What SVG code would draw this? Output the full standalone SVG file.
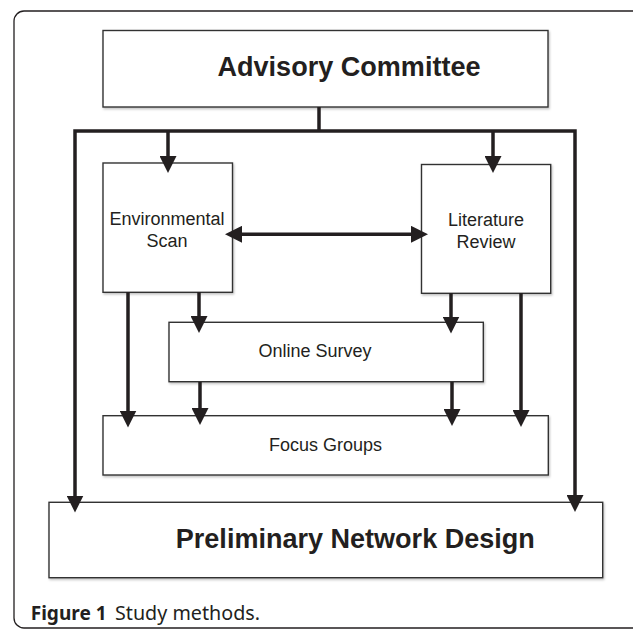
<svg xmlns="http://www.w3.org/2000/svg" width="633" height="630" viewBox="0 0 633 630">
<style>
.box{fill:#fff;stroke:#333;stroke-width:1.4;filter:url(#sh)}
.ln{fill:none;stroke:#231f20;stroke-width:3.5}
.t{font-family:"Liberation Sans",Arial,sans-serif;fill:#231f20;text-anchor:middle}
.big{font-size:27px;font-weight:bold}
.sm{font-size:18px}
.cap{font-family:"Noto Sans","Open Sans",sans-serif;font-size:19.5px;fill:#231f20}
</style>
<defs>
<filter id="sh" x="-5%" y="-5%" width="110%" height="115%">
<feDropShadow dx="1" dy="1.5" stdDeviation="1" flood-color="#000" flood-opacity="0.25"/>
</filter>
<marker id="ah" markerUnits="userSpaceOnUse" viewBox="0 0 17 17" markerWidth="17" markerHeight="17" refX="7" refY="8.5" orient="auto-start-reverse">
<path d="M0,0 L17,8.5 L0,17 z" fill="#231f20"/>
</marker>
</defs>
<rect x="14" y="11" width="640" height="617" rx="10" ry="10" fill="none" stroke="#231f20" stroke-width="1.3"/>
<g id="advisory">
<rect class="box" x="103" y="30.5" width="445" height="76.5"/>
<text class="t big" x="349" y="75.7" textLength="263" lengthAdjust="spacingAndGlyphs">Advisory Committee</text>
</g>
<g id="environmental">
<rect class="box" x="103" y="163" width="129.5" height="129.3"/>
<text class="t sm" x="167" y="225">Environmental</text>
<text class="t sm" x="167" y="246.7">Scan</text>
</g>
<g id="literature">
<rect class="box" x="421.5" y="164.5" width="129.2" height="128.8"/>
<text class="t sm" x="486" y="226">Literature</text>
<text class="t sm" x="486" y="247.7">Review</text>
</g>
<g id="online">
<rect class="box" x="169" y="322.3" width="314.3" height="59.4"/>
<text class="t sm" x="315" y="357.3">Online Survey</text>
</g>
<g id="focus">
<rect class="box" x="103" y="415.7" width="445.3" height="59.3"/>
<text class="t sm" x="325.5" y="451">Focus Groups</text>
</g>
<g id="preliminary">
<rect class="box" x="49" y="502.3" width="553.7" height="75.4"/>
<text class="t big" x="355.3" y="547.7" textLength="359" lengthAdjust="spacingAndGlyphs">Preliminary Network Design</text>
</g>
<g id="connectors">
<path class="ln" d="M319,107 V131"/>
<path class="ln" d="M75,502.5 V131 H575 V502" marker-start="url(#ah)" marker-end="url(#ah)"/>
<path class="ln" d="M168,131 V163" marker-end="url(#ah)"/>
<path class="ln" d="M493,131 V163" marker-end="url(#ah)"/>
<path class="ln" d="M235,234.3 H418" marker-start="url(#ah)" marker-end="url(#ah)"/>
<path class="ln" d="M199,292 V323" marker-end="url(#ah)"/>
<path class="ln" d="M128,292 V417.5" marker-end="url(#ah)"/>
<path class="ln" d="M451,293 V323.5" marker-end="url(#ah)"/>
<path class="ln" d="M521,293 V417" marker-end="url(#ah)"/>
<path class="ln" d="M200,382 V415" marker-end="url(#ah)"/>
<path class="ln" d="M452,382 V416" marker-end="url(#ah)"/>
</g>
<g id="caption">
<text class="cap" x="30.7" y="620" font-weight="bold" textLength="76" lengthAdjust="spacingAndGlyphs">Figure 1</text>
<text class="cap" x="115" y="620" textLength="145" lengthAdjust="spacingAndGlyphs">Study methods.</text>
</g>
</svg>
